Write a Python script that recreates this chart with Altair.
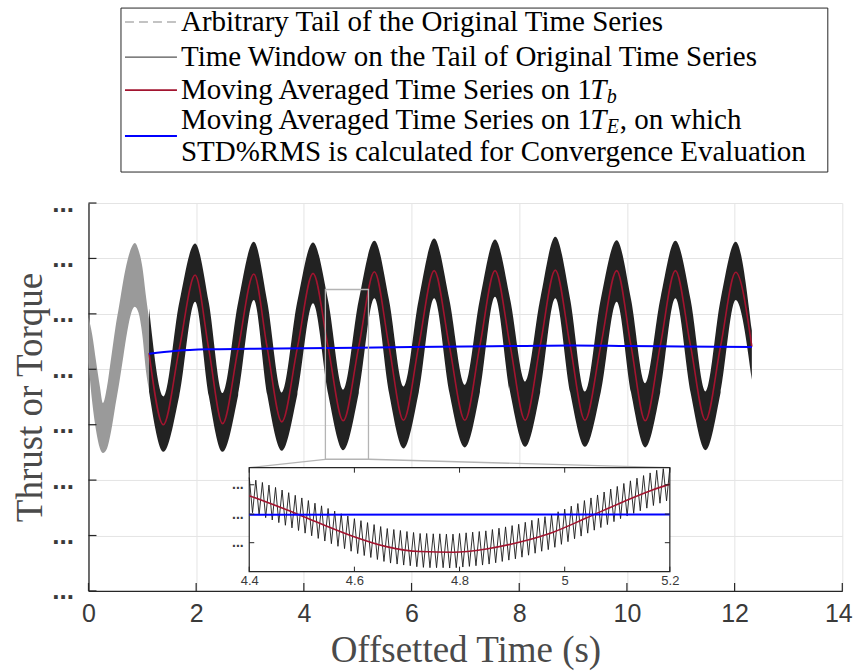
import altair as alt
import pandas as pd

# ---------------- data ----------------
# Arbitrary tail of the original time series (dense band, drawn as envelope)
gray_t  = [0.0, 0.07, 0.14, 0.21, 0.27, 0.34, 0.42, 0.50, 0.57, 0.65, 0.72, 0.79, 0.86, 0.93, 1.00, 1.07, 1.14]
gray_hi = [4.94, 4.62, 4.15, 3.70, 3.39, 3.66, 4.20, 4.75, 5.15, 5.62, 5.95, 6.18, 6.28, 6.15, 5.85, 5.30, 4.80]
gray_lo = [4.12, 3.40, 2.90, 2.58, 2.49, 2.56, 2.88, 3.35, 3.75, 4.25, 4.68, 5.00, 5.13, 5.02, 4.62, 3.95, 3.55]

# Time window on the tail (dense band) and its 1T_b moving average
win_t = [1.125, 1.39, 1.685, 1.98, 2.235, 2.49, 2.78, 3.07, 3.32, 3.59,
         3.88, 4.17, 4.45, 4.73, 5.02, 5.31, 5.58, 5.85, 6.135, 6.42,
         6.70, 6.99, 7.27, 7.55, 7.83, 8.11, 8.39, 8.67, 8.945, 9.22,
         9.515, 9.81, 10.075, 10.34, 10.62, 10.90, 11.18, 11.46, 11.74, 12.02, 12.32]
win_hi = [5.10, 3.51, 5.20, 6.27, 5.20, 3.57, 5.21, 6.30, 5.22, 3.58,
          5.23, 6.29, 5.24, 3.63, 5.25, 6.32, 5.26, 3.69, 5.27, 6.36,
          5.27, 3.72, 5.27, 6.34, 5.27, 3.78, 5.27, 6.39, 5.27, 3.60,
          5.27, 6.33, 5.27, 3.75, 5.27, 6.32, 5.27, 3.60, 5.26, 6.30, 4.70]
win_lo = [3.60, 2.51, 3.52, 5.22, 3.52, 2.51, 3.53, 5.25, 3.54, 2.53,
          3.55, 5.19, 3.56, 2.54, 3.57, 5.28, 3.58, 2.57, 3.59, 5.28,
          3.59, 2.59, 3.59, 5.31, 3.59, 2.60, 3.59, 5.28, 3.59, 2.60,
          3.59, 5.22, 3.59, 2.59, 3.59, 5.28, 3.59, 2.54, 3.58, 5.25, 3.81]
ma_b = [4.29, 3.00, 4.36, 5.70, 4.36, 3.02, 4.37, 5.72, 4.38, 3.05,
        4.39, 5.73, 4.40, 3.07, 4.41, 5.76, 4.42, 3.08, 4.43, 5.78,
        4.43, 3.08, 4.43, 5.78, 4.43, 3.08, 4.43, 5.79, 4.43, 3.08,
        4.43, 5.78, 4.43, 3.07, 4.43, 5.78, 4.43, 3.08, 4.42, 5.75, 4.41]

# 1T_E moving average (convergence series)
ma_e_t = [1.125, 1.6, 2.2, 3.0, 4.0, 5.0, 6.0, 7.0, 8.0, 9.0, 10.0, 11.0, 12.32]
ma_e   = [4.28, 4.33, 4.36, 4.37, 4.38, 4.39, 4.40, 4.41, 4.42, 4.43, 4.42, 4.41, 4.40]

x_ticks = [0, 2, 4, 6, 8, 10, 12, 14]
y_ticks = [0, 1, 2, 3, 4, 5, 6, 7]

# zoom box on the main axes and the links to the inset
zoom_t = [4.4, 5.2]
zoom_v = [2.376, 5.44]
link_t_from = [4.4, 5.2]
link_v_from = [2.376, 2.376]
link_t_to = [2.987, 10.80]
link_v_to = [2.224, 2.224]

# inset
inset_t_dom = [4.4, 5.2]
inset_v_dom = [2.42, 5.58]
inset_x_ticks = [4.4, 4.6, 4.8, 5.0, 5.2]
inset_y_ticks = [3.30, 4.17, 5.06]
inset_dt = 0.00625  # half period of the fast oscillation
inset_peaks = [5.28, 5.20, 5.13, 5.05, 4.98, 4.90, 4.82, 4.74, 4.66, 4.58,
               4.50, 4.42, 4.34, 4.26, 4.18, 4.11, 4.03, 3.97, 3.91, 3.85,
               3.79, 3.73, 3.70, 3.67, 3.64, 3.61, 3.58, 3.58, 3.57, 3.57,
               3.56, 3.56, 3.58, 3.60, 3.62, 3.64, 3.66, 3.70, 3.74, 3.78,
               3.82, 3.86, 3.92, 3.98, 4.04, 4.09, 4.15, 4.24, 4.32, 4.41,
               4.49, 4.58, 4.66, 4.75, 4.84, 4.93, 5.01, 5.10, 5.18, 5.26,
               5.34, 5.42, 5.50, 5.55, 5.57]
inset_troughs = [4.21, 4.14, 4.06, 3.99, 3.91, 3.83, 3.75, 3.67, 3.59, 3.51,
                 3.43, 3.35, 3.27, 3.19, 3.12, 3.04, 2.97, 2.91, 2.85, 2.79,
                 2.73, 2.68, 2.65, 2.62, 2.60, 2.57, 2.55, 2.54, 2.54, 2.54,
                 2.53, 2.54, 2.56, 2.58, 2.60, 2.62, 2.65, 2.69, 2.73, 2.77,
                 2.81, 2.86, 2.92, 2.98, 3.04, 3.09, 3.16, 3.25, 3.33, 3.42,
                 3.50, 3.59, 3.68, 3.76, 3.85, 3.94, 4.03, 4.11, 4.19, 4.27,
                 4.35, 4.43, 4.50, 4.57]
inset_red_t = [4.4, 4.471, 4.534, 4.598, 4.661, 4.725, 4.788, 4.851, 4.915, 4.978, 5.041, 5.105, 5.168, 5.2]
inset_red_v = [4.73, 4.30, 3.89, 3.49, 3.18, 3.03, 3.01, 3.11, 3.32, 3.62, 4.05, 4.50, 4.91, 5.08]
inset_blue_t = [4.4, 5.2]
inset_blue_v = [4.146, 4.16]

legend_labels = [
    "Arbitrary Tail of the Original Time Series",
    "Time Window on the Tail of Original Time Series",
    "Moving Averaged Time Series on 1",
    "Moving Averaged Time Series on 1",
    "STD%RMS is calculated for Convergence Evaluation",
]

# ---------------- styling ----------------
W, H = 754, 388
SERIF = "Liberation Serif"
SANS = "Liberation Sans"
RED = "#A2142F"
BLUE = "#0000FF"
DARK = "#262626"
LFS = 29  # legend font size

xs = alt.Scale(domain=[0, 14], nice=False, zero=False)
ys = alt.Scale(domain=[0, 7], nice=False, zero=False)

x_axis = alt.Axis(values=x_ticks, title="Offsetted Time (s)", grid=True, gridColor="#e4e4e4",
                  domainColor=DARK, domainWidth=1.3, ticks=False, labelFont=SANS, labelFontSize=25,
                  labelColor="#3a3a3a", labelPadding=11, labelFlush=False,
                  labelOffset={"expr": "datum.value == 14 ? -4 : 0"},
                  titleFont=SERIF, titleFontSize=37, titleFontWeight="normal", titleColor="#4a4a4a",
                  titlePadding=6)
y_axis = alt.Axis(values=y_ticks, labelExpr="'...'", title="Thrust or Torque", grid=True,
                  gridColor="#e4e4e4", domainColor=DARK, domainWidth=1.3, ticks=False,
                  labelFont=SANS, labelFontSize=26, labelFontWeight="bold", labelColor="#3a3a3a",
                  labelPadding=15, labelFlush=False,
                  titleFont=SERIF, titleFontSize=37, titleFontWeight="normal", titleColor="#4a4a4a",
                  titlePadding=2)


def X(field):
    return alt.X(field, type="quantitative", scale=xs, axis=x_axis)


def Y(field):
    return alt.Y(field, type="quantitative", scale=ys, axis=y_axis)


gray_df = pd.DataFrame({"t": gray_t, "hi": gray_hi, "lo": gray_lo})
win_df = pd.DataFrame({"t": win_t, "hi": win_hi, "lo": win_lo, "v": ma_b})
mae_df = pd.DataFrame({"t": ma_e_t, "v": ma_e})
xt_df = pd.DataFrame({"t": x_ticks})
yt_df = pd.DataFrame({"v": y_ticks})
zoom_df = pd.DataFrame({"t": [zoom_t[0]], "t2": [zoom_t[1]], "v": [zoom_v[0]], "v2": [zoom_v[1]]})
link_df = pd.DataFrame({"t": link_t_from, "v": link_v_from, "t2": link_t_to, "v2": link_v_to})

gray_band = alt.Chart(gray_df).mark_area(color="#9a9a9a", interpolate="monotone").encode(
    x=X("t"), y=Y("hi"), y2="lo")
win_band = alt.Chart(win_df).mark_area(color="#222222", interpolate="monotone").encode(
    x=X("t"), y=Y("hi"), y2="lo")
red_line = alt.Chart(win_df).mark_line(color=RED, strokeWidth=1.6, interpolate="monotone").encode(
    x=X("t"), y=Y("v"))
blue_line = alt.Chart(mae_df).mark_line(color=BLUE, strokeWidth=2, interpolate="monotone").encode(
    x=X("t"), y=Y("v"))
xt_marks = alt.Chart(xt_df).mark_rule(color=DARK, strokeWidth=1.2).encode(
    x=X("t"), y=alt.value(H), y2=alt.value(H - 8))
yt_marks = alt.Chart(yt_df).mark_rule(color=DARK, strokeWidth=1.2).encode(
    y=Y("v"), x=alt.value(0), x2=alt.value(8))
zoom_box = alt.Chart(zoom_df).mark_rect(fill=None, fillOpacity=0, stroke="#b4b4b4", strokeWidth=1.3).encode(
    x=X("t"), x2="t2", y=Y("v"), y2="v2")
links = alt.Chart(link_df).mark_rule(color="#b4b4b4", strokeWidth=1.3).encode(
    x=X("t"), y=Y("v"), x2="t2", y2="v2")

# ----- legend (drawn above the axes) -----
one = pd.DataFrame({"k": [0]})


def ltext(s, x, y, size=LFS, style="normal"):
    return alt.Chart(one).mark_text(text=s, align="left", baseline="middle", font=SERIF,
                                    fontSize=size, fontStyle=style, color="black").encode(
        x=alt.value(x), y=alt.value(y))


def lline(color, y, dash=None, width=1.5):
    kw = dict(color=color, strokeWidth=width)
    if dash:
        kw["strokeDash"] = dash
    return alt.Chart(one).mark_rule(**kw).encode(x=alt.value(36.5), x2=alt.value(88.5), y=alt.value(y))


legend_box = alt.Chart(one).mark_rect(fill="white", stroke=DARK, strokeWidth=1).encode(
    x=alt.value(32.5), x2=alt.value(739.5), y=alt.value(-195), y2=alt.value(-31))

legend = [
    legend_box,
    lline("#b0b0b0", -181, dash=[9, 5]),
    ltext(legend_labels[0], 92.5, -181),
    lline("#555555", -146, width=1.2),
    ltext(legend_labels[1], 92.5, -146),
    lline(RED, -113, width=1.8),
    ltext(legend_labels[2], 92.5, -113),
    ltext("T", 502, -113, style="italic"),
    ltext("b", 518.5, -106, size=20, style="italic"),
    lline(BLUE, -67, width=2),
    ltext(legend_labels[3], 92.5, -83),
    ltext("T", 502, -83, style="italic"),
    ltext("E", 518.5, -76, size=20, style="italic"),
    ltext(", on which", 531.5, -83),
    ltext(legend_labels[4], 92.5, -51),
]

main = alt.layer(gray_band, win_band, red_line, blue_line, xt_marks, yt_marks, zoom_box, links, *legend)

# ---------------- inset ----------------
IX0, IX1 = 160.8, 581.5
IY0, IY1 = 368.7, 264.7
ixs = alt.Scale(domain=inset_t_dom, range=[IX0, IX1], nice=False, zero=False)
iys = alt.Scale(domain=inset_v_dom, range=[IY0, IY1], nice=False, zero=False)
ix_axis = alt.Axis(values=inset_x_ticks, orient="bottom", offset=-(H - IY0), domain=False, ticks=False,
                   grid=False, labelFont=SANS, labelFontSize=13, labelColor="#3a3a3a", labelPadding=3,
                   labelFlush=False, format="~g", title=None)
iy_axis = alt.Axis(values=inset_y_ticks, orient="left", offset=-IX0, domain=False, ticks=False,
                   grid=False, labelExpr="'...'", labelFont=SANS, labelFontSize=14, labelFontWeight="bold",
                   labelColor="#3a3a3a", labelPadding=6, labelFlush=False, title=None)


def IX(field):
    return alt.X(field, type="quantitative", scale=ixs, axis=ix_axis)


def IY(field):
    return alt.Y(field, type="quantitative", scale=iys, axis=iy_axis)


sig_t, sig_v = [], []
for i, p in enumerate(inset_peaks):
    sig_t.append(inset_t_dom[0] + 2 * i * inset_dt)
    sig_v.append(p)
    if i < len(inset_troughs):
        sig_t.append(inset_t_dom[0] + (2 * i + 1) * inset_dt)
        sig_v.append(inset_troughs[i])
sig_df = pd.DataFrame({"t": sig_t, "v": sig_v})
ired_df = pd.DataFrame({"t": inset_red_t, "v": inset_red_v})
iblue_df = pd.DataFrame({"t": inset_blue_t, "v": inset_blue_v})
ibox_df = pd.DataFrame({"t": [inset_t_dom[0]], "t2": [inset_t_dom[1]], "v": [inset_v_dom[0]], "v2": [inset_v_dom[1]]})
ixt_df = pd.DataFrame({"t": inset_x_ticks})
iyt_df = pd.DataFrame({"v": inset_y_ticks})

ibox = alt.Chart(ibox_df).mark_rect(fill="white", stroke=DARK, strokeWidth=1.2).encode(
    x=IX("t"), x2="t2", y=IY("v"), y2="v2")
isig = alt.Chart(sig_df).mark_line(color="#1a1a1a", strokeWidth=0.9).encode(x=IX("t"), y=IY("v"))
ired = alt.Chart(ired_df).mark_line(color=RED, strokeWidth=1.6, interpolate="monotone").encode(
    x=IX("t"), y=IY("v"))
iblue = alt.Chart(iblue_df).mark_line(color=BLUE, strokeWidth=2).encode(x=IX("t"), y=IY("v"))
ixt_b = alt.Chart(ixt_df).mark_rule(color=DARK).encode(x=IX("t"), y=alt.value(IY0), y2=alt.value(IY0 - 5))
ixt_t = alt.Chart(ixt_df).mark_rule(color=DARK).encode(x=IX("t"), y=alt.value(IY1), y2=alt.value(IY1 + 5))
iyt_l = alt.Chart(iyt_df).mark_rule(color=DARK).encode(y=IY("v"), x=alt.value(IX0), x2=alt.value(IX0 + 5))
iyt_r = alt.Chart(iyt_df).mark_rule(color=DARK).encode(y=IY("v"), x=alt.value(IX1), x2=alt.value(IX1 - 5))

inset = alt.layer(ibox, isig, ired, iblue, ixt_b, ixt_t, iyt_l, iyt_r)

chart = alt.layer(main, inset).resolve_scale(x="independent", y="independent").properties(
    width=W, height=H,
    autosize=alt.AutoSizeParams(type="none"),
    padding={"left": 88.5, "top": 203, "right": 12.7, "bottom": 81},
    background="white",
).configure_view(stroke=None)

chart.save("out.html", embed_options={"renderer": "svg", "actions": False})
